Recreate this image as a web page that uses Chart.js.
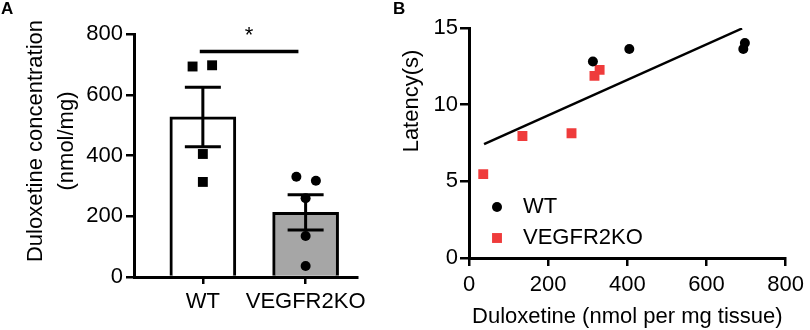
<!DOCTYPE html>
<html lang="en">
<head>
<meta charset="UTF-8">
<title>Duloxetine concentration and latency</title>
<script src="https://cdn.jsdelivr.net/npm/chart.js"></script>
<style>
    body { margin: 0; background: #fff; font-family: 'Liberation Sans', Arial, sans-serif; }
    .panel { position: absolute; top: 0; height: 330px; }
    #panelA { left: 0; width: 400px; }
    #panelB { left: 400px; width: 410px; }
    .letter { position: absolute; top: 0; font-weight: bold; font-size: 17px; line-height: 17px; z-index: 2; }
</style>
</head>
<body>
<div class="panel" id="panelA"><canvas id="chartA" width="400" height="330"></canvas></div>
<div class="panel" id="panelB"><canvas id="chartB" width="410" height="330"></canvas></div>
<div class="letter" style="left:1px">A</div>
<div class="letter" style="left:393px">B</div>

<script>
    // group names and bar summary (mean +/- SEM)
    const groups = ['WT', 'VEGFR2KO'];
    const barMeans = [527, 213];
    const barSem = [98, 58];

    // per-animal duloxetine (nmol/mg) and small horizontal jitter in panel A
    const wtConc = [693, 697, 405, 313];
    const wtJitter = [-0.1, 0.09, 0, 0];
    const koConc = [330, 317, 259, 135, 36];
    const koJitter = [-0.09, 0.1, 0, 0, 0];

    // latency (s) for the same animals, panel B
    const wtLatency = [13.63, 14.02, 13.63, 12.82];
    const koLatency = [12.27, 11.88, 8.14, 7.96, 5.47];

    // regression line end points
    const fitX = [38, 690];
    const fitY = [7.42, 14.97];

    const FONT = "'Liberation Sans', Arial, sans-serif";
    const RED = '#ef3b3b';
    Chart.defaults.font.family = FONT;
    Chart.defaults.font.size = 22;
    Chart.defaults.color = '#000';

    const axisLine = { display: true, color: '#000', width: 3 };

    // rotated y-axis titles, placed by hand because they are not centred on the axis
    const sideTitle = {
        id: 'sideTitle',
        afterDraw(chart, args, opts) {
            const ctx = chart.ctx;
            ctx.save();
            ctx.font = '22px ' + FONT;
            ctx.fillStyle = '#000';
            ctx.textAlign = 'center';
            ctx.textBaseline = 'middle';
            opts.lines.forEach((line, i) => {
                ctx.save();
                ctx.translate(opts.x[i], opts.y);
                ctx.rotate(-Math.PI / 2);
                ctx.fillText(line, 0, 0);
                ctx.restore();
            });
            ctx.restore();
        }
    };

    // SEM whiskers + significance bar for panel A
    const errorBars = {
        id: 'errorBars',
        afterDatasetsDraw(chart, args, opts) {
            const { ctx, scales: { x, y } } = chart;
            ctx.save();
            ctx.strokeStyle = '#000';
            ctx.lineWidth = 3;
            barMeans.forEach((m, i) => {
                const cx = x.getPixelForValue(i);
                const top = y.getPixelForValue(m + barSem[i]);
                const bot = y.getPixelForValue(m - barSem[i]);
                ctx.beginPath();
                ctx.moveTo(cx, top); ctx.lineTo(cx, bot);
                ctx.moveTo(cx - opts.cap, top); ctx.lineTo(cx + opts.cap, top);
                ctx.moveTo(cx - opts.cap, bot); ctx.lineTo(cx + opts.cap, bot);
                ctx.stroke();
            });

            const sy = y.getPixelForValue(opts.sigLevel);
            const x1 = x.getPixelForValue(opts.sigFrom);
            const x2 = x.getPixelForValue(opts.sigTo);
            ctx.lineWidth = 3.5;
            ctx.beginPath();
            ctx.moveTo(x1, sy); ctx.lineTo(x2, sy);
            ctx.stroke();
            ctx.fillStyle = '#000';
            ctx.font = '22px ' + FONT;
            ctx.textAlign = 'center';
            ctx.textBaseline = 'alphabetic';
            ctx.fillText('*', (x1 + x2) / 2, sy - 10);
            ctx.restore();
        }
    };

    // legend sitting inside the plot area of panel B
    const insideLegend = {
        id: 'insideLegend',
        afterDraw(chart, args, opts) {
            const ctx = chart.ctx;
            ctx.save();
            ctx.font = '22px ' + FONT;
            ctx.textBaseline = 'middle';
            opts.items.forEach((idx, k) => {
                const ds = chart.data.datasets[idx];
                const cy = opts.y + k * opts.spacing;
                ctx.fillStyle = ds.backgroundColor;
                ctx.beginPath();
                if (ds.pointStyle === 'rect') {
                    const h = ds.pointRadius * Math.SQRT1_2;
                    ctx.rect(opts.x - h, cy - h, 2 * h, 2 * h);
                } else {
                    ctx.arc(opts.x, cy, ds.pointRadius, 0, Math.PI * 2);
                }
                ctx.fill();
                ctx.fillStyle = '#000';
                ctx.fillText(ds.label, opts.textX, cy);
            });
            ctx.restore();
        }
    };

    // Panel A: bars with individual points
    new Chart(document.getElementById('chartA'), {
        type: 'bar',
        data: {
            datasets: [
                {
                    type: 'scatter',
                    label: 'WT',
                    data: wtConc.map((v, i) => ({ x: wtJitter[i], y: v })),
                    pointStyle: 'rect',
                    pointRadius: 7,
                    backgroundColor: '#000',
                    borderWidth: 0
                },
                {
                    type: 'scatter',
                    label: 'VEGFR2KO',
                    data: koConc.map((v, i) => ({ x: 1 + koJitter[i], y: v })),
                    pointStyle: 'circle',
                    pointRadius: 5,
                    backgroundColor: '#000',
                    borderWidth: 0
                },
                {
                    label: 'Mean',
                    data: barMeans.map((m, i) => ({ x: i, y: m })),
                    backgroundColor: ['#ffffff', '#a6a6a6'],
                    borderColor: '#000',
                    borderWidth: 3,
                    borderSkipped: 'start',
                    barThickness: 66
                }
            ]
        },
        options: {
            responsive: false,
            animation: false,
            layout: { padding: { top: 34, right: 43, left: 0, bottom: 0 } },
            plugins: {
                legend: { display: false },
                tooltip: { enabled: false },
                sideTitle: { lines: ['Duloxetine concentration', '(nmol/mg)'], x: [36, 67], y: 141 },
                errorBars: { cap: 18, sigLevel: 742, sigFrom: -0.03, sigTo: 0.93 }
            },
            scales: {
                x: {
                    type: 'linear',
                    min: -0.67,
                    max: 1.5,
                    offset: false,
                    grid: { offset: false, drawOnChartArea: false, color: '#000', lineWidth: 2.5, tickLength: 7 },
                    border: axisLine,
                    afterBuildTicks: s => { s.ticks = groups.map((g, i) => ({ value: i })); },
                    ticks: { padding: 5, callback: v => groups[v] },
                    afterFit: s => { s.height = 53; }
                },
                y: {
                    min: 0,
                    max: 800,
                    ticks: { stepSize: 200, padding: 3 },
                    grid: { drawOnChartArea: false, color: '#000', lineWidth: 2.5, tickLength: 8 },
                    border: axisLine,
                    afterFit: s => { s.width = 134; }
                }
            }
        },
        plugins: [errorBars, sideTitle]
    });

    // Panel B: latency vs duloxetine
    new Chart(document.getElementById('chartB'), {
        type: 'scatter',
        data: {
            datasets: [
                {
                    label: 'WT',
                    data: wtConc.map((c, i) => ({ x: c, y: wtLatency[i] })),
                    pointStyle: 'circle',
                    pointRadius: 5,
                    backgroundColor: '#000',
                    borderWidth: 0
                },
                {
                    label: 'VEGFR2KO',
                    data: koConc.map((c, i) => ({ x: c, y: koLatency[i] })),
                    pointStyle: 'rect',
                    pointRadius: 7,
                    backgroundColor: RED,
                    borderWidth: 0
                },
                {
                    type: 'line',
                    label: 'fit',
                    data: fitX.map((v, i) => ({ x: v, y: fitY[i] })),
                    borderColor: '#000',
                    borderWidth: 2.5,
                    pointRadius: 0,
                    fill: false
                }
            ]
        },
        options: {
            responsive: false,
            animation: false,
            layout: { padding: { top: 28, right: 19, left: 0, bottom: 0 } },
            plugins: {
                legend: { display: false },
                tooltip: { enabled: false },
                sideTitle: { lines: ['Latency(s)'], x: [12], y: 101 },
                insideLegend: { items: [0, 1], x: 97, y: 207, spacing: 31, textX: 123 }
            },
            scales: {
                x: {
                    min: 0,
                    max: 800,
                    ticks: { stepSize: 200, padding: 6 },
                    grid: { drawOnChartArea: false, color: '#000', lineWidth: 2.5, tickLength: 8 },
                    border: axisLine,
                    title: { display: true, text: 'Duloxetine (nmol per mg tissue)', padding: 0 },
                    afterFit: s => { s.height = 72; }
                },
                y: {
                    min: 0,
                    max: 15,
                    ticks: { stepSize: 5, padding: 2 },
                    grid: { drawOnChartArea: false, color: '#000', lineWidth: 2.5, tickLength: 9 },
                    border: axisLine,
                    afterFit: s => { s.width = 69; }
                }
            }
        },
        plugins: [insideLegend, sideTitle]
    });
</script>
</body>
</html>
